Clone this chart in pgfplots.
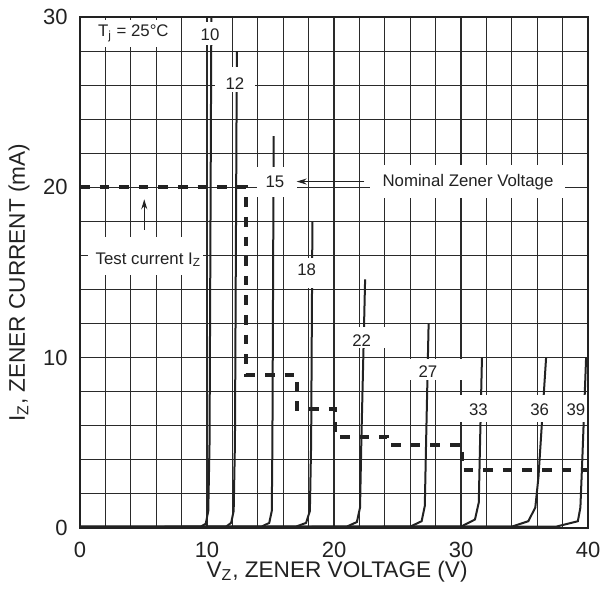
\documentclass[border=0pt]{standalone}
\usepackage{fontspec}
\setmainfont{Liberation Sans}
\usepackage{pgfplots}
\pgfplotsset{compat=1.18}
\usetikzlibrary{arrows.meta}
\definecolor{ink}{HTML}{222222}
\definecolor{gridc}{HTML}{2a2a2a}

\begin{document}
\begin{tikzpicture}[
  note/.style={font=\fontsize{8.4}{10}\selectfont, text=ink, inner sep=0pt},
]
\useasboundingbox (-40pt,-31pt) rectangle (261.5pt,264pt);
\begin{axis}[
  at={(0pt,0pt)}, anchor=south west,
  scale only axis, width=254pt, height=255.5pt,
  xmin=0, xmax=40, ymin=0, ymax=30,
  xtick={0,10,...,40}, ytick={0,10,20,30},
  minor x tick num=4, minor y tick num=4,
  grid=both,
  major grid style={gridc, line width=0.55pt},
  minor grid style={gridc, line width=0.55pt},
  axis line style={ink, line width=0.8pt},
  major tick length=0pt, minor tick length=0pt,
  tick label style={font=\fontsize{11}{13}\selectfont, text=ink, inner sep=0.5pt},
  /pgf/number format/assume math mode=true,
  xticklabel style={yshift=-6.35pt},
  yticklabel style={xshift=-5.5pt},
  xlabel={V\textsubscript{Z}, ZENER VOLTAGE (V)},
  ylabel={I\textsubscript{Z}, ZENER CURRENT (mA)},
  label style={font=\fontsize{11.3}{13}\selectfont, text=ink, inner sep=0.5pt},
  xlabel style={at={(axis description cs:0.506,0)}, anchor=base, yshift=-24.5pt},
  ylabel style={at={(axis description cs:-0.1083,0.48)}, anchor=base},
  zc/.style={ink, line width=1pt, mark=none},
]
% zener curves, one per nominal voltage
\addplot[zc] coordinates {(0,0.06) (9.5,0.08) (9.9,0.25) (10.1,1) (10.2,5) (10.35,31)};
\addplot[zc] coordinates {(0,0.06) (11.5,0.08) (11.9,0.3) (12.1,1) (12.2,5) (12.35,28)};
\addplot[zc] coordinates {(0,0.06) (14.3,0.08) (14.9,0.3) (15.1,1) (15.15,5) (15.25,23)};
\addplot[zc] coordinates {(0,0.06) (17.0,0.08) (17.8,0.3) (18.1,1) (18.2,5) (18.3,18)};
\addplot[zc] coordinates {(0,0.06) (21.0,0.08) (21.8,0.35) (22.05,1.2) (22.15,5) (22.45,14.6)};
\addplot[zc] coordinates {(0,0.06) (26.0,0.08) (26.9,0.4) (27.15,1.3) (27.25,5) (27.45,12)};
\addplot[zc] coordinates {(0,0.06) (30.0,0.08) (31.1,0.5) (31.4,1.5) (31.5,5) (31.65,10)};
\addplot[zc] coordinates {(0,0.06) (34.0,0.08) (35.3,0.4) (35.85,1.2) (36.1,3) (36.7,10)};
\addplot[zc] coordinates {(0,0.06) (37.5,0.08) (39.2,0.4) (39.4,1.2) (39.55,4) (39.85,10)};
% test current
\addplot[ink, line width=2pt, mark=none, dash pattern=on 4.8pt off 5pt] coordinates {
  (0,20) (13.1,20) (13.1,9) (17.1,9) (17.1,7) (20.1,7) (20.1,5.35)
  (24.2,5.35) (24.2,4.9) (30.1,4.9) (30.1,3.4) (40,3.4)};
% white label boxes
\fill[white] (axis cs:0.79,28.26) rectangle (axis cs:7.87,29.83);
\fill[white] (axis cs:9.29,28.36) rectangle (axis cs:11.18,29.73);
\fill[white] (axis cs:10.63,25.62) rectangle (axis cs:13.78,27.09);
\fill[white] (axis cs:13.94,19.44) rectangle (axis cs:17.09,21.2);
\fill[white] (axis cs:22.83,19.38) rectangle (axis cs:38.19,21.32);
\fill[white] (axis cs:0.63,14.86) rectangle (axis cs:9.69,17.09);
\fill[white] (axis cs:16.7,14.09) rectangle (axis cs:19.3,15.85);
\fill[white] (axis cs:20.47,10.57) rectangle (axis cs:24.25,11.8);
\fill[white] (axis cs:24.17,8.69) rectangle (axis cs:31.34,9.92);
\fill[white] (axis cs:29.76,6.24) rectangle (axis cs:33.54,7.81);
\fill[white] (axis cs:34.25,6.24) rectangle (axis cs:37.8,7.81);
\fill[white] (axis cs:38.19,6.24) rectangle (axis cs:39.92,7.81);
% labels
\node[note] at (axis cs:4.2,29.05) {T\textsubscript{j} = 25°C};
\node[note] at (axis cs:10.24,28.95) {10};
\node[note] at (axis cs:12.2,26.1) {12};
\node[note] at (axis cs:15.35,20.3) {15};
\node[note] at (axis cs:17.85,15.15) {18};
\node[note] at (axis cs:22.18,11.0) {22};
\node[note] at (axis cs:27.4,9.18) {27};
\node[note] at (axis cs:31.37,6.93) {33};
\node[note] at (axis cs:36.2,6.93) {36};
\node[note] at (axis cs:39.05,6.93) {39};
\node[note] at (axis cs:30.55,20.3) {Nominal Zener Voltage};
\node[note] at (axis cs:5.38,15.74) {Test current I\textsubscript{Z}};
\draw[ink, line width=0.6pt, -{Stealth[length=5pt,width=3pt]}] (axis cs:22.4,20.34) -- (axis cs:17.06,20.34);
\draw[ink, line width=0.6pt, -{Stealth[length=5pt,width=3pt]}] (axis cs:5.06,17.5) -- (axis cs:5.06,19.3);
\end{axis}
\end{tikzpicture}
\end{document}
